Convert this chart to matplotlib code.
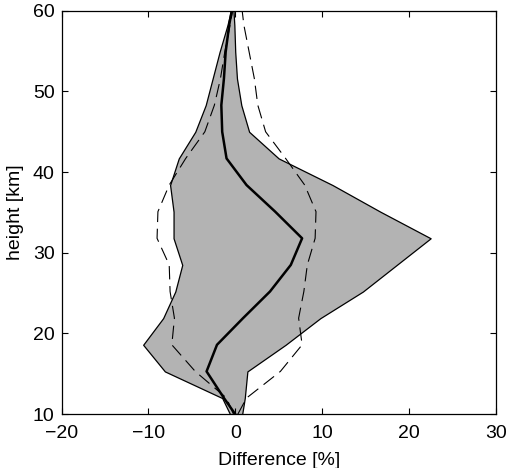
import numpy as np
import matplotlib
matplotlib.use("Agg")
import matplotlib.pyplot as plt

plt.rcParams['font.family'] = ['Liberation Sans', 'DejaVu Sans']

# height levels [km]
height = [10, 12, 15.3, 18.6, 21.9, 25.2, 28.5, 31.8, 35.1, 38.4, 41.7,
          45.0, 48.3, 51.6, 54.9, 58.2, 60]
# mean difference [%]
mean_diff = [0.0, -1.3, -3.3, -2.1, 0.9, 4.0, 6.4, 7.7, 4.6, 1.3, -1.0,
             -1.5, -1.6, -1.3, -1.1, -0.7, -0.4]
# min / max envelope
min_diff = [-0.6, -1.5, -8.1, -10.6, -8.3, -6.9, -6.1, -7.1, -7.1, -7.5, -6.5,
            -4.6, -3.4, -2.6, -1.8, -0.9, -0.5]
max_diff = [0.8, 1.1, 1.4, 5.8, 9.8, 14.7, 18.6, 22.5, 16.7, 11.2, 5.0,
            1.6, 0.7, 0.2, 0.0, -0.1, -0.2]
# mean -/+ std
lo_std = [-0.2, -1.0, -4.6, -7.3, -7.0, -7.5, -7.6, -9.0, -8.9, -7.6, -5.7,
          -3.5, -2.4, -1.7, -1.2, -0.6, -0.3]
hi_std = [0.3, 1.3, 5.2, 7.7, 7.3, 7.9, 8.3, 9.2, 9.3, 8.0, 5.8,
          3.5, 2.6, 2.2, 1.6, 1.0, 0.8]

fig = plt.figure(figsize=(5.28, 4.68), dpi=100)
ax = fig.add_axes([0.1165, 0.115, 0.8225, 0.862])

ax.fill_betweenx(height, min_diff, max_diff, facecolor='0.7', edgecolor='black', linewidth=0.9)
ax.plot(lo_std, height, 'k--', linewidth=0.8, dashes=(12, 6))
ax.plot(hi_std, height, 'k--', linewidth=0.8, dashes=(12, 6))
ax.plot(mean_diff, height, 'k-', linewidth=1.8)

ax.set_xlim(-20, 30)
ax.set_ylim(10, 60)
ax.set_xticks([-20, -10, 0, 10, 20, 30])
ax.set_yticks([10, 20, 30, 40, 50, 60])
ax.set_xticklabels(['\u221220', '\u221210', '0', '10', '20', '30'])
ax.tick_params(direction='in', top=True, right=True, length=4, width=0.8,
               labelsize=14)
ax.tick_params(axis='x', pad=8)
ax.tick_params(axis='y', pad=5)
for s in ax.spines.values():
    s.set_linewidth(0.9)

ax.set_xlabel('Difference [%]', fontsize=14, labelpad=7)
ax.set_ylabel('height [km]', fontsize=14, labelpad=6)

plt.savefig('out.png', dpi=100)
